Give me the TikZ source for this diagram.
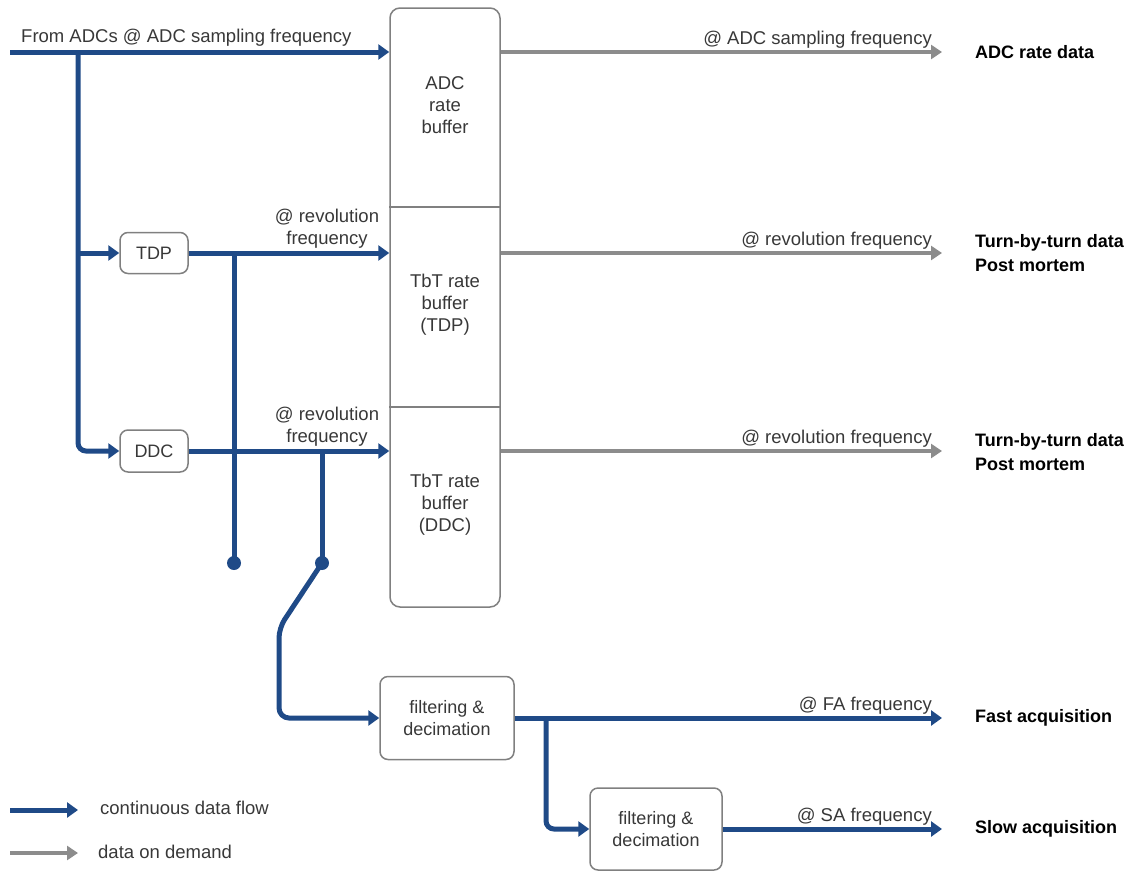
\documentclass[tikz,border=0pt]{standalone}
\usepackage{fontspec}
\setmainfont{Liberation Sans}
\usetikzlibrary{arrows.meta}
\definecolor{flowblue}{HTML}{1F4A87}
\definecolor{demgray}{HTML}{8C8C8C}
\definecolor{boxgray}{HTML}{808080}
\definecolor{txt}{HTML}{383838}
\begin{document}
\begin{tikzpicture}[x=1pt,y=-1pt,
  flow/.style={draw=flowblue, line width=5pt, -{Triangle[length=11pt,width=15pt]}},
  flowline/.style={draw=flowblue, line width=5pt},
  demand/.style={draw=demgray, line width=4pt, -{Triangle[length=11pt,width=14pt]}},
  box/.style={draw=boxgray, line width=1.5pt, rounded corners=8pt, fill=white, font=\fontsize{18}{22}\selectfont, text=txt, align=center, inner sep=0pt},
  lbl/.style={font=\fontsize{18.5}{22}\selectfont, text=txt, inner sep=0pt, align=center},
  outlbl/.style={font=\bfseries\fontsize{18}{24.5}\selectfont, text=black, inner sep=0pt, align=left, anchor=west},
  jdot/.style={circle, fill=flowblue, minimum size=14pt, inner sep=0pt}
]
\useasboundingbox (0,0) rectangle (1132,873);

% buffer column
\node[box, minimum width=110pt, minimum height=599pt, rounded corners=10pt] (buf) at (445,307.5) {};
\draw[boxgray, line width=1.5pt] (buf.west |- 0,207) -- (buf.east |- 0,207);
\draw[boxgray, line width=1.5pt] (buf.west |- 0,407) -- (buf.east |- 0,407);
\node[lbl] (adcb) at (445,105) {ADC\\rate\\buffer};
\node[lbl] (tdpb) at (445,305) {TbT rate\\buffer\\(TDP)};
\node[lbl] (ddcb) at (445,505) {TbT rate\\buffer\\(DDC)};

% processing boxes
\node[box, minimum width=68pt, minimum height=41pt] (tdp) at (154,253) {TDP};
\node[box, minimum width=68pt, minimum height=42pt] (ddc) at (154,451) {DDC};
\node[box, minimum width=134pt, minimum height=83pt] (fd1) at (447,718) {filtering \&\\decimation};
\node[box, minimum width=132pt, minimum height=82pt] (fd2) at (656,829) {filtering \&\\decimation};

% coordinates
\coordinate (src) at (10,52);
\coordinate (j0) at (78,52);
\coordinate (fa) at (942,718);
\coordinate (t1) at (234,253);
\coordinate (t2) at (322,451);
\coordinate (s1) at (279,628);
\coordinate (s2) at (279,718);
\coordinate (j3) at (546,718);

% input
\draw[flow] (src) -- (src -| buf.west);
\node[lbl, anchor=west] (srcl) at (21,38) {From ADCs @ ADC sampling frequency};
\draw[flow, rounded corners=8pt] (j0) |- (ddc.west);
\draw[flow] (j0 |- tdp.west) -- (tdp.west);

% TDP / DDC to buffers
\draw[flow] (tdp.east) -- (tdp.east -| buf.west);
\node[lbl] (tdpl) at (327,229) {@ revolution\\frequency};
\draw[flow] (ddc.east) -- (ddc.east -| buf.west);
\node[lbl] (ddcl) at (327,427) {@ revolution\\frequency};

% switch
\node[jdot] (d1) at (234,563) {};
\node[jdot] (d2) at (322,563) {};
\draw[flowline] (t1) -- (d1.center);
\draw[flowline] (t2) -- (d2.center);
\draw[flow, rounded corners=10pt] (d2.center) -- (s1) -- (s2) -- (fd1.west);

% filtering chain
\draw[flow] (fd1.east) -- (fa);
\node[lbl, anchor=base east] (fal) at (932,710) {@ FA frequency};
\draw[flow, rounded corners=8pt] (j3) |- (fd2.west);
\draw[flow] (fd2.east) -- (fd2.east -| fa);
\node[lbl, anchor=base east] (sal) at (932,821) {@ SA frequency};

% on demand outputs
\draw[demand] (buf.east |- src) -- (fa |- src);
\node[lbl, anchor=base east] (g1) at (932,44) {@ ADC sampling frequency};
\draw[demand] (buf.east |- tdp.east) -- (fa |- tdp.east);
\node[lbl, anchor=base east] (g2) at (932,245) {@ revolution frequency};
\draw[demand] (buf.east |- ddc.east) -- (fa |- ddc.east);
\node[lbl, anchor=base east] (g3) at (932,443) {@ revolution frequency};

% output labels
\node[outlbl] (o1) at (975,52) {ADC rate data};
\node[outlbl] (o2) at (975,253) {Turn-by-turn data\\Post mortem};
\node[outlbl] (o3) at (975,452) {Turn-by-turn data\\Post mortem};
\node[outlbl] (o4) at (975,718) {Fast acquisition};
\node[outlbl] (o5) at (975,829) {Slow acquisition};

% legend
\coordinate (la) at (10,810);
\coordinate (lb) at (78,810);
\coordinate (lc) at (10,853);
\coordinate (ld) at (78,853);
\draw[flow] (la) -- (lb);
\node[lbl, anchor=west] (lt1) at (100,808) {continuous data flow};
\draw[demand] (lc) -- (ld);
\node[lbl, anchor=west] (lt2) at (98,852) {data on demand};
\end{tikzpicture}
\end{document}
